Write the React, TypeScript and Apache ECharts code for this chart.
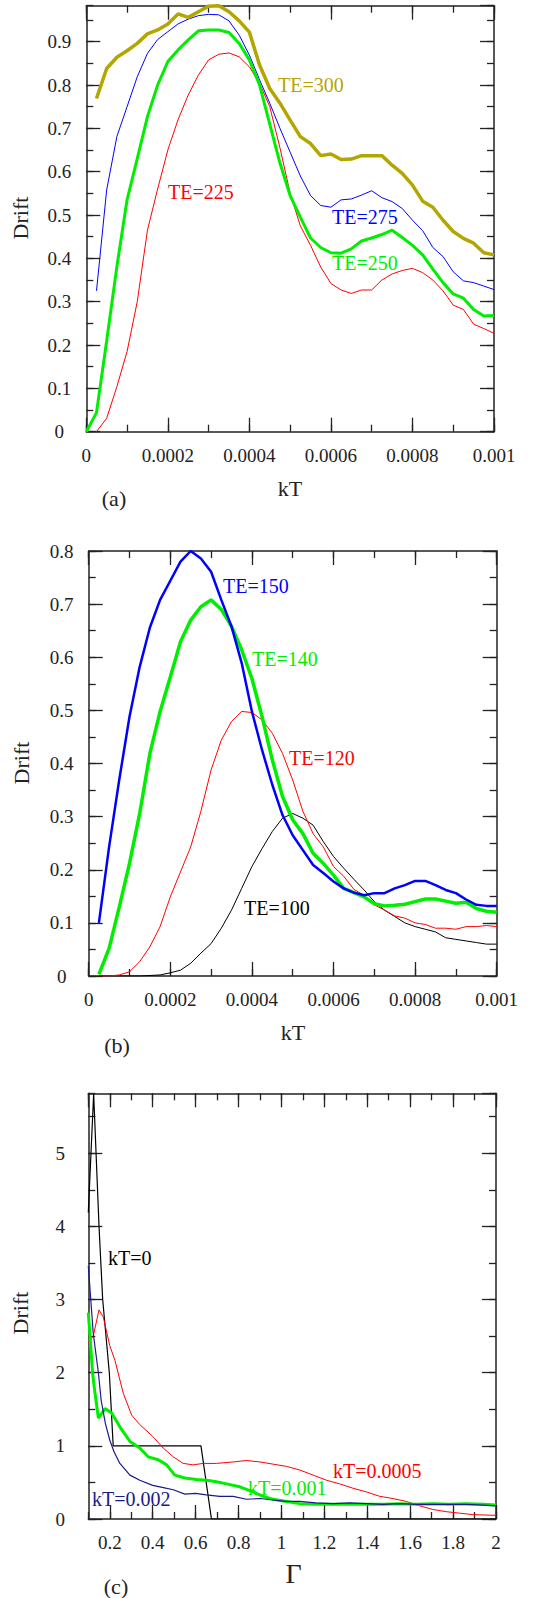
import React, { useEffect, useRef } from "react";
import * as echarts from "echarts";

// ---------- data ----------
const kT = [
  0, 0.000025, 0.00005, 0.000075, 0.0001, 0.000125, 0.00015, 0.000175, 0.0002, 0.000225,
  0.00025, 0.000275, 0.0003, 0.000325, 0.00035, 0.000375, 0.0004, 0.000425, 0.00045, 0.000475,
  0.0005, 0.000525, 0.00055, 0.000575, 0.0006, 0.000625, 0.00065, 0.000675, 0.0007, 0.000725,
  0.00075, 0.000775, 0.0008, 0.000825, 0.00085, 0.000875, 0.0009, 0.000925, 0.00095, 0.000975,
  0.001,
];

// panel (a)
const te300 = [null, 0.769, 0.838, 0.864, 0.879, 0.896, 0.918, 0.927, 0.941, 0.964, 0.956, 0.969, 0.982, 0.983, 0.969, 0.948, 0.922, 0.846, 0.792, 0.758, 0.719, 0.681, 0.665, 0.637, 0.641, 0.628, 0.629, 0.637, 0.637, 0.637, 0.615, 0.596, 0.569, 0.532, 0.518, 0.488, 0.462, 0.446, 0.435, 0.413, 0.408];
const te275 = [null, 0.325, 0.558, 0.681, 0.75, 0.819, 0.873, 0.905, 0.923, 0.941, 0.952, 0.96, 0.963, 0.962, 0.948, 0.915, 0.869, 0.812, 0.758, 0.70, 0.645, 0.59, 0.545, 0.522, 0.518, 0.535, 0.537, 0.546, 0.556, 0.54, 0.531, 0.515, 0.488, 0.464, 0.425, 0.404, 0.369, 0.348, 0.344, 0.336, 0.328];
const te250 = [0, 0.044, 0.21, 0.381, 0.535, 0.63, 0.727, 0.8, 0.854, 0.881, 0.904, 0.925, 0.927, 0.927, 0.921, 0.896, 0.858, 0.80, 0.71, 0.62, 0.545, 0.495, 0.447, 0.425, 0.413, 0.412, 0.422, 0.44, 0.447, 0.455, 0.465, 0.448, 0.43, 0.408, 0.375, 0.344, 0.318, 0.308, 0.282, 0.267, 0.268];
const te225 = [null, 0, 0.031, 0.104, 0.185, 0.30, 0.465, 0.56, 0.65, 0.72, 0.777, 0.823, 0.858, 0.871, 0.874, 0.865, 0.842, 0.804, 0.75, 0.655, 0.55, 0.475, 0.43, 0.38, 0.342, 0.327, 0.319, 0.327, 0.327, 0.35, 0.364, 0.372, 0.377, 0.367, 0.35, 0.325, 0.292, 0.282, 0.248, 0.238, 0.227];

// panel (b)
const te150 = [null, 0.1, 0.243, 0.37, 0.488, 0.582, 0.656, 0.708, 0.744, 0.78, 0.8, 0.786, 0.761, 0.708, 0.658, 0.589, 0.498, 0.425, 0.36, 0.303, 0.265, 0.237, 0.209, 0.194, 0.178, 0.165, 0.157, 0.152, 0.156, 0.156, 0.165, 0.171, 0.179, 0.179, 0.171, 0.162, 0.156, 0.144, 0.134, 0.132, 0.132];
const te140 = [null, 0.003, 0.052, 0.13, 0.212, 0.306, 0.419, 0.498, 0.563, 0.629, 0.67, 0.695, 0.708, 0.69, 0.658, 0.614, 0.56, 0.488, 0.407, 0.338, 0.294, 0.268, 0.231, 0.212, 0.19, 0.165, 0.157, 0.149, 0.136, 0.132, 0.133, 0.135, 0.14, 0.145, 0.145, 0.141, 0.137, 0.139, 0.127, 0.122, 0.12];
const te120 = [null, 0, 0, 0.002, 0.008, 0.027, 0.055, 0.093, 0.149, 0.196, 0.243, 0.31, 0.388, 0.444, 0.479, 0.498, 0.496, 0.482, 0.457, 0.419, 0.369, 0.31, 0.268, 0.243, 0.206, 0.188, 0.163, 0.152, 0.134, 0.124, 0.113, 0.109, 0.1, 0.097, 0.09, 0.09, 0.088, 0.093, 0.093, 0.095, 0.093];
const te100 = [null, 0, 0, 0, 0, 0, 0.001, 0.002, 0.006, 0.011, 0.024, 0.043, 0.061, 0.09, 0.124, 0.165, 0.206, 0.24, 0.272, 0.297, 0.306, 0.297, 0.284, 0.253, 0.225, 0.203, 0.182, 0.162, 0.14, 0.124, 0.112, 0.1, 0.093, 0.088, 0.083, 0.072, 0.069, 0.066, 0.063, 0.06, 0.06];

// panel (c): [Gamma, Drift]
const kt0 = [[0.1, 4.19], [0.125, 5.81], [0.15, 4.0], [0.167, 3.0], [0.198, 2.0], [0.216, 1.0], [0.625, 1.0], [0.674, 0], [2.0, 0]];
const kt002 = [[0.1, 3.46], [0.123, 2.54], [0.147, 2.0], [0.16, 1.62], [0.18, 1.3], [0.2, 1.08], [0.22, 0.92], [0.247, 0.76], [0.294, 0.6], [0.34, 0.53], [0.4, 0.46], [0.45, 0.43], [0.496, 0.4], [0.55, 0.34], [0.6, 0.35], [0.65, 0.33], [0.713, 0.31], [0.775, 0.31], [0.837, 0.27], [0.9, 0.28], [0.96, 0.26], [1.02, 0.24], [1.085, 0.24], [1.16, 0.22], [1.24, 0.21], [1.318, 0.22], [1.396, 0.21], [1.473, 0.2], [1.551, 0.21], [1.629, 0.2], [1.706, 0.2], [1.784, 0.2], [1.861, 0.2], [1.939, 0.19], [2.0, 0.18]];
const kt001 = [[0.1, 2.82], [0.108, 2.5], [0.12, 2.0], [0.128, 1.79], [0.147, 1.38], [0.178, 1.51], [0.209, 1.45], [0.247, 1.26], [0.294, 1.06], [0.34, 0.97], [0.379, 0.85], [0.426, 0.81], [0.465, 0.74], [0.503, 0.6], [0.55, 0.56], [0.604, 0.54], [0.651, 0.53], [0.697, 0.51], [0.744, 0.48], [0.806, 0.44], [0.868, 0.37], [0.915, 0.31], [0.961, 0.27], [1.023, 0.24], [1.085, 0.21], [1.163, 0.2], [1.24, 0.2], [1.318, 0.2], [1.396, 0.2], [1.473, 0.2], [1.551, 0.21], [1.629, 0.2], [1.706, 0.21], [1.784, 0.2], [1.861, 0.21], [1.939, 0.2], [2.0, 0.19]];
const kt0005 = [[0.1, 2.41], [0.123, 2.5], [0.15, 2.86], [0.17, 2.76], [0.2, 2.37], [0.224, 2.17], [0.263, 1.72], [0.302, 1.42], [0.34, 1.29], [0.4, 1.13], [0.449, 0.97], [0.496, 0.85], [0.542, 0.76], [0.589, 0.74], [0.635, 0.76], [0.697, 0.76], [0.775, 0.78], [0.837, 0.8], [0.9, 0.78], [0.961, 0.75], [1.023, 0.72], [1.085, 0.67], [1.148, 0.6], [1.21, 0.53], [1.272, 0.48], [1.334, 0.42], [1.396, 0.37], [1.458, 0.31], [1.52, 0.28], [1.582, 0.24], [1.644, 0.18], [1.706, 0.13], [1.768, 0.1], [1.83, 0.08], [1.892, 0.06], [2.0, 0.05]];

// ---------- styling ----------
const AX = "#222";
const FONT = "Liberation Serif";

const pairs = (ys: (number | null)[]) =>
  kT.map((x, i) => [x, ys[i]]).filter((p) => p[1] !== null);

type AxCfg = {
  min: number;
  max: number;
  major: number | null;
  minor: number;
  splitNumber?: number;
  label: any;
};

function makeAxes(dim: "x" | "y", gridIndex: number, cfg: AxCfg) {
  const mainPos = dim === "x" ? "bottom" : "left";
  const oppPos = dim === "x" ? "top" : "right";
  const mk = (pos: string, interval: number | null, len: number, labels: boolean, showLine: boolean) => ({
    type: "value",
    gridIndex,
    position: pos,
    min: cfg.min,
    max: cfg.max,
    ...(interval != null ? { interval } : { splitNumber: cfg.splitNumber }),
    splitLine: { show: false },
    minorTick: { show: false },
    axisLine: showLine ? { show: true, onZero: false, lineStyle: { color: AX, width: 1.5 } } : { show: false, onZero: false },
    axisTick: { show: true, inside: true, length: len, lineStyle: { color: AX, width: 1.3 } },
    axisLabel: labels
      ? { show: true, color: "#222", fontFamily: FONT, fontSize: 19, ...cfg.label }
      : { show: false },
  });
  return [
    mk(mainPos, cfg.major, 14, true, true),
    mk(mainPos, cfg.minor, 7, false, false),
    mk(oppPos, cfg.major, 14, false, true),
    mk(oppPos, cfg.minor, 7, false, false),
  ];
}

const fmtKT = (v: number) => (v === 0 ? "0" : String(+v.toFixed(5)));
const fmt1 = (v: number) => (v === 0 ? "0" : v.toFixed(1));

function line(name: string, data: any[], grid: number, color: string, width: number) {
  return {
    type: "line",
    name,
    data,
    xAxisIndex: grid * 4,
    yAxisIndex: grid * 4,
    showSymbol: false,
    symbol: "none",
    clip: true,
    lineStyle: { color, width },
    itemStyle: { color },
    z: 3,
  };
}

function txt(text: string, x: number, y: number, color: string, size: number, align = "left", rotation = 0) {
  return {
    type: "text",
    x,
    y,
    rotation,
    style: { text, fill: color, fontFamily: FONT, fontSize: size, align, verticalAlign: "middle" },
    z: 10,
  };
}

export default function App() {
  const ref = useRef<HTMLDivElement>(null);
  useEffect(() => {
    if (!ref.current) return;
    const chart = echarts.init(ref.current, null, { renderer: "svg" });
    const GOLD = "#b3a600";
    const GREEN = "#00ee00";
    const BLUE = "#0000ff";
    const RED = "#ff0000";
    const NAVY = "#1a1a8c";

    const xA = [
      ...makeAxes("x", 0, { min: 0, max: 0.001, major: 0.0002, minor: 0.0001, label: { margin: 14, formatter: fmtKT } }),
      ...makeAxes("x", 1, { min: 0, max: 0.001, major: 0.0002, minor: 0.0001, label: { margin: 14, formatter: fmtKT } }),
      ...makeAxes("x", 2, { min: 0.1, max: 2, major: null, splitNumber: 10, minor: 0.1, label: { margin: 14, showMinLabel: false, formatter: (v: number) => String(+v.toFixed(1)) } }),
    ];
    const yA = [
      ...makeAxes("y", 0, { min: 0, max: 0.983, major: 0.1, minor: 0.05, label: { margin: 27, align: "center", showMaxLabel: false, formatter: fmt1 } }),
      ...makeAxes("y", 1, { min: 0, max: 0.8, major: 0.1, minor: 0.05, label: { margin: 27, align: "center", formatter: fmt1 } }),
      ...makeAxes("y", 2, { min: 0, max: 5.82, major: 1, minor: 0.5, label: { margin: 28, align: "center", showMaxLabel: false, formatter: (v: number) => String(v) } }),
    ];

    chart.setOption({
      animation: false,
      backgroundColor: "#fff",
      textStyle: { fontFamily: FONT },
      grid: [
        { left: 86.3, top: 5.7, width: 407.7, height: 426, containLabel: false },
        { left: 88.7, top: 551, width: 408, height: 425, containLabel: false },
        { left: 88.3, top: 1093.3, width: 407.7, height: 425.7, containLabel: false },
      ],
      xAxis: xA,
      yAxis: yA,
      series: [
        line("TE=225", pairs(te225), 0, RED, 1),
        line("TE=275", pairs(te275), 0, BLUE, 1),
        line("TE=250", pairs(te250), 0, GREEN, 3),
        line("TE=300", pairs(te300), 0, GOLD, 3.5),
        line("TE=100", pairs(te100), 1, "#000", 1),
        line("TE=120", pairs(te120), 1, RED, 1),
        line("TE=140", pairs(te140), 1, GREEN, 3.5),
        line("TE=150", pairs(te150), 1, BLUE, 2.5),
        line("kT=0", kt0, 2, "#000", 1.2),
        line("kT=0.0005", kt0005, 2, RED, 1),
        line("kT=0.001", kt001, 2, GREEN, 3),
        line("kT=0.002", kt002, 2, NAVY, 1.2),
      ],
      graphic: [
        txt("Drift", 20, 218, "#222", 22, "center", Math.PI / 2),
        txt("kT", 290, 488, "#222", 22, "center"),
        txt("(a)", 114, 498, "#222", 22, "center"),
        txt("TE=300", 278, 85, GOLD, 20),
        txt("TE=225", 168, 192, RED, 20),
        txt("TE=275", 332, 217, BLUE, 20),
        txt("TE=250", 332, 263, GREEN, 20),

        txt("Drift", 21, 763, "#222", 22, "center", Math.PI / 2),
        txt("kT", 293, 1032, "#222", 22, "center"),
        txt("(b)", 117, 1045, "#222", 22, "center"),
        txt("TE=150", 223, 586, BLUE, 20),
        txt("TE=140", 252, 659, GREEN, 20),
        txt("TE=120", 289, 758, RED, 20),
        txt("TE=100", 244, 908, "#000", 20),

        txt("Drift", 20, 1313, "#222", 22, "center", Math.PI / 2),
        txt("Γ", 293.5, 1573, "#222", 28, "center"),
        txt("(c)", 116, 1586, "#222", 22, "center"),
        txt("kT=0", 108, 1258, "#000", 20),
        txt("kT=0.002", 92, 1499, NAVY, 20),
        txt("kT=0.001", 248, 1488, GREEN, 20),
        txt("kT=0.0005", 333, 1471, RED, 20),
      ],
    });
    return () => chart.dispose();
  }, []);
  return (
    <div
      ref={ref}
      style={{ position: "absolute", left: 0, top: 0, width: 546, height: 1598, background: "#fff" }}
    />
  );
}
